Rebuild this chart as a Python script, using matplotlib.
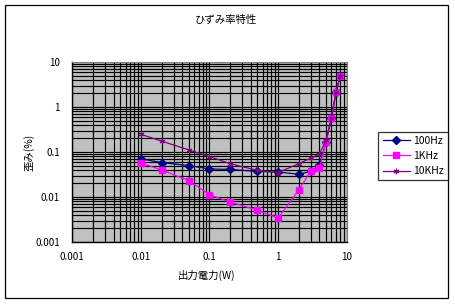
import matplotlib
matplotlib.use("Agg")
import matplotlib.pyplot as plt
from matplotlib.patches import Rectangle
from matplotlib.ticker import FixedLocator, FixedFormatter, NullFormatter

plt.rcParams['font.family'] = ['Noto Sans CJK JP', 'DejaVu Sans']

title = "ひずみ率特性"
xlabel = "出力電力(W)"
ylabel = "歪み(%)"

power_100 = [0.01, 0.02, 0.05, 0.1, 0.2, 0.5, 1, 2, 3, 4, 5, 6, 7, 8]
thd_100 = [0.071, 0.058, 0.050, 0.042, 0.041, 0.037, 0.036, 0.032, 0.037, 0.051, 0.167, 0.58, 2.15, 4.8]

power_1k = [0.01, 0.02, 0.05, 0.1, 0.2, 0.5, 1, 2, 3, 4, 5, 6, 7, 8]
thd_1k = [0.057, 0.040, 0.023, 0.0113, 0.0077, 0.0051, 0.0034, 0.0143, 0.038, 0.043, 0.167, 0.58, 2.15, 4.8]

power_10k = [0.01, 0.02, 0.05, 0.1, 0.2, 0.5, 1, 2, 3, 4, 5, 6, 7, 8]
thd_10k = [0.247, 0.175, 0.111, 0.079, 0.055, 0.039, 0.035, 0.055, 0.073, 0.090, 0.185, 0.58, 2.15, 4.8]

series_names = ["100Hz", "1KHz", "10KHz"]
tick_vals = [0.001, 0.01, 0.1, 1, 10]
tick_labels = ["0.001", "0.01", "0.1", "1", "10"]

fig = plt.figure(figsize=(4.55, 3.04), dpi=100)
fig.patch.set_facecolor("white")
fig.add_artist(Rectangle((5/455, 1 - 298/304), 443/455, 293/304, transform=fig.transFigure,
                         fill=False, edgecolor="black", linewidth=0.9))

ax = fig.add_axes([72.3/455, 1 - 242/304, 274.4/455, 180/304])
ax.set_facecolor("#C0C0C0")
ax.set_xscale("log")
ax.set_yscale("log")
ax.set_xlim(0.001, 10)
ax.set_ylim(0.001, 10)

minor = [m * 10.0**k for k in range(-3, 1) for m in range(2, 10)]
ax.xaxis.set_major_locator(FixedLocator(tick_vals))
ax.xaxis.set_major_formatter(FixedFormatter(tick_labels))
ax.yaxis.set_major_locator(FixedLocator(tick_vals))
ax.yaxis.set_major_formatter(FixedFormatter(tick_labels))
ax.xaxis.set_minor_locator(FixedLocator(minor))
ax.yaxis.set_minor_locator(FixedLocator(minor))
ax.xaxis.set_minor_formatter(NullFormatter())
ax.yaxis.set_minor_formatter(NullFormatter())
ax.grid(True, which="both", color="black", linewidth=0.85)
ax.set_axisbelow(True)
ax.tick_params(which="both", length=0, labelsize=7, pad=7)
ax.tick_params(axis="y", pad=9)

for s in ["top", "right"]:
    ax.spines[s].set_color("#808080")
for s in ["left", "bottom"]:
    ax.spines[s].set_color("black")
    ax.spines[s].set_linewidth(1.0)

ax.plot(power_100, thd_100, color="#000080", marker="D", markersize=4, linewidth=0.9,
        label=series_names[0])
ax.plot(power_1k, thd_1k, color="#FF00FF", marker="s", markersize=5, linewidth=0.9,
        label=series_names[1])
ax.plot(power_10k, thd_10k, color="#800080", marker=(6, 2, 0), markersize=4, linewidth=0.9,
        markeredgewidth=0.8, label=series_names[2])

fig.text(226/455, 1 - 20/304, title, ha="center", va="center", fontsize=7.5)
fig.text(207/455, 1 - 275/304, xlabel, ha="center", va="center", fontsize=7.5)
fig.text(29/455, 1 - 152/304, ylabel, ha="center", va="center", fontsize=7.5, rotation=90)

leg = fig.legend(loc="center", bbox_to_anchor=(413/455, 1 - 156/304), fontsize=7.5,
                 frameon=True, fancybox=False, edgecolor="black", handlelength=2.6,
                 handletextpad=0.3, borderpad=0.4, labelspacing=0.5, borderaxespad=0)
leg.get_frame().set_linewidth(0.9)

fig.savefig("out.png", dpi=100, facecolor="white")
